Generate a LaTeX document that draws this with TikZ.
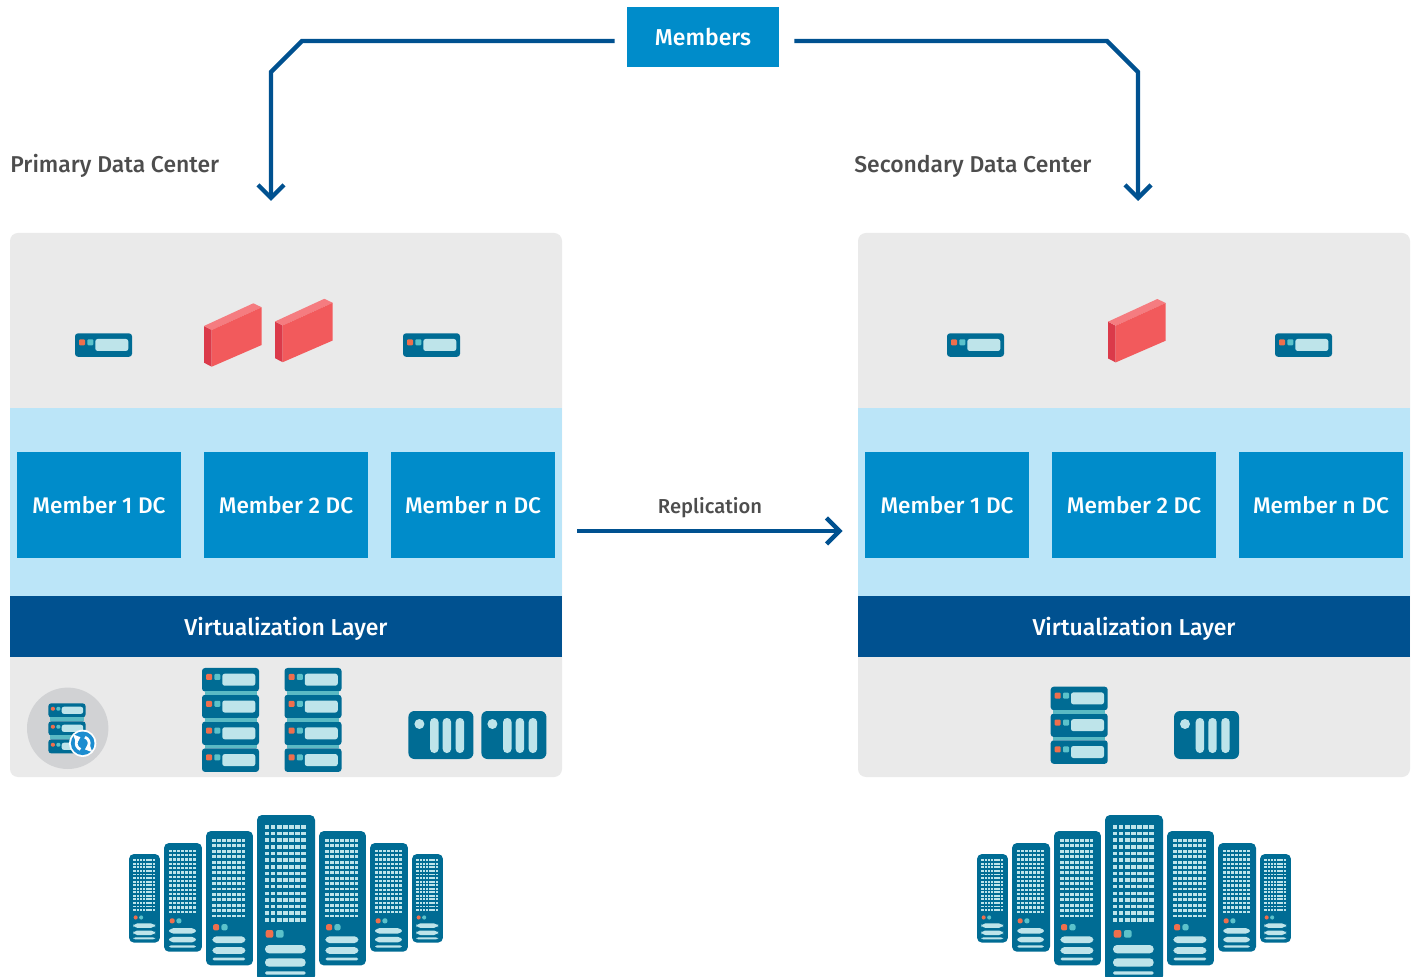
\documentclass[tikz,border=0pt]{standalone}
\usepackage{fontspec}
\setmainfont{Fira Sans Medium}
\usetikzlibrary{arrows.meta}

\definecolor{boxblue}{RGB}{0,140,202}
\definecolor{navy}{RGB}{0,81,144}
\definecolor{bandblue}{RGB}{187,229,248}
\definecolor{panelgray}{RGB}{234,234,234}
\definecolor{icon}{RGB}{0,108,148}
\definecolor{iconlight}{RGB}{190,228,234}
\definecolor{ledorange}{RGB}{239,111,77}
\definecolor{ledteal}{RGB}{91,194,203}
\definecolor{linkteal}{RGB}{90,186,196}
\definecolor{fwfront}{RGB}{242,90,92}
\definecolor{fwside}{RGB}{219,58,74}
\definecolor{fwtop}{RGB}{245,124,128}
\definecolor{discgray}{RGB}{209,210,212}
\definecolor{syncblue}{RGB}{28,141,208}
\definecolor{labelgray}{RGB}{77,77,77}

\tikzset{
  panel/.style={fill=panelgray, rounded corners=4pt, minimum width=276pt,
    minimum height=272pt, inner sep=0pt},
  member/.style={fill=boxblue, text=white, minimum width=82pt, minimum height=52.8pt,
    inner sep=0pt, font=\fontsize{11.3}{14}\selectfont},
  virt/.style={fill=navy, text=white, minimum width=276pt, minimum height=30.5pt,
    inner sep=0pt, text depth=0pt, font=\fontsize{11.5}{14}\selectfont},
  heading/.style={text=labelgray, inner sep=0pt, font=\fontsize{11.45}{13}\selectfont},
  link/.style={draw=navy, line width=2.2pt, -{Straight Barb[length=6.5pt,width=13pt]}},
  % 1U server, origin at top-left, 57 x 23.5
  unit/.pic={
    \fill[icon, rounded corners=1.5pt] (0,0) rectangle (57,23.5);
    \fill[ledorange, rounded corners=0.5pt] (4,6) rectangle (10,12);
    \fill[ledteal, rounded corners=0.5pt] (12.3,6) rectangle (18.3,12);
    \fill[iconlight, rounded corners=1.2pt] (20.3,5.7) rectangle (53.3,17.7);
  },
  % storage shelf, 65 x 48
  shelf/.pic={
    \fill[icon, rounded corners=3pt] (0,0) rectangle (65,48);
    \fill[iconlight] (11,13) circle (5);
    \foreach \bx in {21.7,34.3,47.3}
      \fill[iconlight, rounded corners=2pt] (\bx,7) rectangle (\bx+8.4,42);
  },
  % firewall block, origin at the upper corner of its left face
  firewall/.pic={
    \fill[fwside] (0,0) -- (7.7,4) -- (7.7,40.7) -- (0,36.7) -- cycle;
    \fill[fwtop] (0,0) -- (49.3,-22.7) -- (57.7,-18.7) -- (7.7,4) -- cycle;
    \fill[fwfront] (7.7,4) -- (57.7,-18.7) -- (57.7,19) -- (7.7,40.7) -- cycle;
  },
  % rack cabinet, 58 x 166
  rack/.pic={
    \fill[icon, rounded corners=2.5pt] (0,0) rectangle (58,166);
    \foreach \r in {0,...,14}
      \foreach \c in {0,...,6}
        \fill[iconlight] (8+\c*6.05,10+\r*6.65) rectangle ++(4.4,3.6);
    \fill[ledorange, rounded corners=1pt] (8.7,115) rectangle (16.3,122.7);
    \fill[ledteal, rounded corners=1pt] (19,115) rectangle (26.6,122.7);
    \fill[iconlight, rounded corners=2pt] (8,130) rectangle (48.7,138.3);
    \fill[iconlight, rounded corners=2pt] (8,143.3) rectangle (48.7,151.7);
    \fill[iconlight, rounded corners=0.8pt] (8,156.3) rectangle (48.7,159.7);
  },
}

% a column of #3 servers with top-left corner (#1,#2)
\newcommand\serverstack[3]{%
  \foreach \k in {1,...,#3}{%
    \pic at (#1,#2+\k*26.8-26.8) {unit};
  }%
  \ifnum#3>1
    \foreach \k in {2,...,#3}{%
      \fill[linkteal] (#1+2.5,#2+\k*26.8-30.3) rectangle (#1+54.5,#2+\k*26.8-26.8);
    }%
  \fi
}

% data centre panel with prefix #1 and left edge #2
\newcommand\dcpanel[2]{%
  \node[panel] (#1) at (#2+276,505) {};
  \fill[bandblue] (#2,408) rectangle (#2+552,596);
  \node[virt] (#1virt) at (#2+276,626.5) {Virtualization Layer};
  \node[member] (#1m1) at (#2+89,505) {Member 1 DC};
  \node[member] (#1m2) at (#2+276,505) {Member 2 DC};
  \node[member] (#1mn) at (#2+463,505) {Member n DC};
}

% row of seven racks centred on #1
\newcommand\rackrow[1]{%
  \pic[scale=0.534] at (#1-157,854) {rack};
  \pic[scale=0.655] at (#1-122,843) {rack};
  \pic[scale=0.81]  at (#1-80,831) {rack};
  \pic              at (#1-29,815) {rack};
  \pic[scale=0.81]  at (#1+33,831) {rack};
  \pic[scale=0.655] at (#1+84,843) {rack};
  \pic[scale=0.534] at (#1+126,854) {rack};
}

\begin{document}
\begin{tikzpicture}[x=0.5pt,y=-0.5pt]
\useasboundingbox (0,0) rectangle (1418,977);
\clip (0,0) rectangle (1418,977);
\fill[white] (0,0) rectangle (1418,977);

% members and the two data centres
\node[fill=boxblue, text=white, minimum width=76pt, minimum height=30pt, inner sep=0pt,
  font=\fontsize{11.5}{14}\selectfont] (members) at (703,37) {Members};

\node[heading, anchor=base west] (plabel) at (10,173) {Primary Data Center};
\node[heading, anchor=base west] (slabel) at (854,173) {Secondary Data Center};

\dcpanel{lp}{10}
\dcpanel{rp}{858}

\coordinate (lpin) at (271,201);
\coordinate (rpin) at (1138,201);
\draw[link] ([shift={(-12,4)}]members.west) -- (302,41) -- (271,72) -- (lpin);
\draw[link] ([shift={(15,4)}]members.east) -- (1107,41) -- (1138,72) -- (rpin);

\draw[link] ([shift={(15,26)}]lp.east) -- ([shift={(-15,26)}]rp.west);
\node[text=labelgray, inner sep=0pt, anchor=base, font=\fontsize{10.1}{12}\selectfont]
  (repl) at (710,514) {Replication};

% front-end tier
\pic at (75,333.3) {unit};
\pic at (204,326) {firewall};
\pic at (275,321.5) {firewall};
\pic at (403,333.3) {unit};

\pic at (947,333.3) {unit};
\pic at (1108,321.7) {firewall};
\pic at (1275,333.3) {unit};

% hardware tier, primary
\fill[discgray] (67.7,728.3) circle (40.7);
\foreach \k in {0,1,2}{
  \pic[xscale=0.655, yscale=0.6] at (48.3,703.3+\k*18) {unit};
}
\foreach \k in {0,1}{
  \fill[linkteal] (50,717.4+\k*18) rectangle (84,721.3+\k*18);
}
\fill[white] (82.7,743.3) circle (13.6);
\fill[syncblue] (82.7,743.3) circle (11.8);
\draw[white, line width=1.4pt, -{Triangle[length=3pt,width=5pt]}]
  (82.7,743.3) ++(110:6.5) arc[start angle=110, end angle=250, radius=6.5];
\draw[white, line width=1.4pt, -{Triangle[length=3pt,width=5pt]}]
  (82.7,743.3) ++(290:6.5) arc[start angle=290, end angle=430, radius=6.5];

\serverstack{202}{668}{4}
\serverstack{284.5}{668}{4}
\pic at (408.4,711) {shelf};
\pic at (481.4,711) {shelf};

% hardware tier, secondary
\serverstack{1050.7}{686.7}{3}
\pic at (1174,711) {shelf};

% racks under each centre
\rackrow{286}
\rackrow{1134}
\end{tikzpicture}
\end{document}
